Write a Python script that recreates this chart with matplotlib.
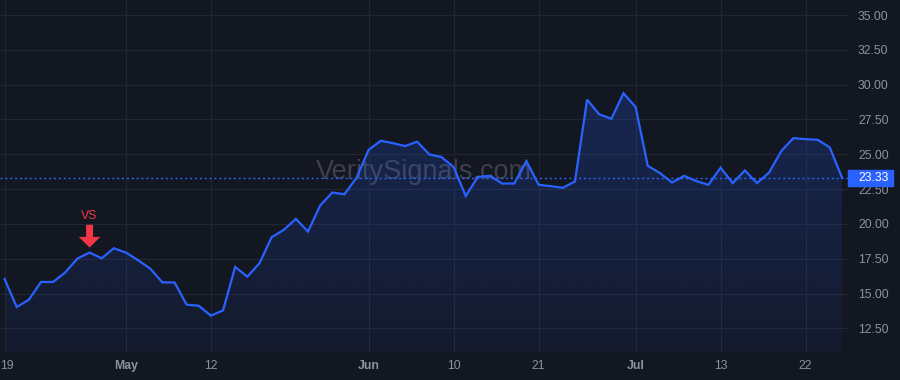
import numpy as np
import matplotlib
matplotlib.use('Agg')
import matplotlib.pyplot as plt
from matplotlib.colors import to_rgb
from matplotlib.patches import Rectangle
import matplotlib.transforms as mtransforms

plt.rcParams['font.family'] = ['Liberation Sans', 'DejaVu Sans']

# closing prices, one per session
values = [16.04, 14.03, 14.56, 15.83, 15.83, 16.52, 17.51, 17.94, 17.53, 18.25,
          17.94, 17.39, 16.79, 15.80, 15.80, 14.20, 14.12, 13.41, 13.79, 16.91,
          16.21, 17.17, 19.04, 19.57, 20.36, 19.45, 21.32, 22.25, 22.13, 23.31,
          25.32, 25.97, 25.80, 25.59, 25.90, 24.99, 24.80, 24.08, 22.01, 23.38,
          23.45, 22.90, 22.90, 24.51, 22.81, 22.71, 22.59, 23.05, 28.92, 27.87,
          27.55, 29.38, 28.39, 24.17, 23.65, 22.97, 23.45, 23.07, 22.81, 24.03,
          22.93, 23.84, 22.93, 23.69, 25.23, 26.16, 26.09, 26.04, 25.49, 23.33]

tick_pos = [0, 10, 17, 30, 37, 44, 52, 59, 66]
tick_labels = ['19', 'May', '12', 'Jun', '10', '21', 'Jul', '13', '22']
months = ['May', 'Jun', 'Jul']
y_ticks = [12.5, 15.0, 17.5, 20.0, 22.5, 25.0, 27.5, 30.0, 32.5, 35.0]

signal_idx = 7
signal_text = 'VS'
watermark = 'VeritySignals.com'

bg = '#131722'
grid_c = '#222632'
text_c = '#8e929d'
line_c = '#2962ff'
red = '#f23645'

x = np.arange(len(values))
y = np.array(values)
ymin, ymax = 10.80, 36.08
xmin, xmax = -0.38, 69.5

fig = plt.figure(figsize=(9, 3.8), dpi=100, facecolor=bg)
ax = fig.add_axes([0, 28/380, 848/900, 352/380])
ax.set_facecolor(bg)

# gradient area under line
grad = np.linspace(0.22, 0.05, 256)
rgba = np.zeros((256, 1, 4))
rgba[..., :3] = to_rgb(line_c)
rgba[..., 3] = grad[:, None]
im = ax.imshow(rgba, aspect='auto', origin='upper',
               extent=[x[0], x[-1], ymin, y.max()], zorder=1, interpolation='bilinear')
poly = ax.fill_between(x, y, ymin, color='none', lw=0)
im.set_clip_path(poly.get_paths()[0], transform=ax.transData)

ax.plot(x, y, color=line_c, lw=1.6, zorder=3, solid_joinstyle='miter')
ax.axhline(y[-1], color=line_c, lw=1, ls=(0, (1.5, 2)), zorder=2)

ax.set_xlim(xmin, xmax)
ax.set_ylim(ymin, ymax)

ax.set_xticks(tick_pos)
ax.set_xticklabels(tick_labels)
ax.set_yticks(y_ticks)
ax.set_yticklabels(['%.2f' % v for v in y_ticks])
ax.yaxis.tick_right()
ax.tick_params(axis='both', length=0, colors=text_c, labelsize=8.8)
ax.tick_params(axis='y', pad=7.2)
ax.tick_params(axis='x', pad=5.5)
xlbls = ax.get_xticklabels()
for lbl in xlbls:
    if lbl.get_text() in months:
        lbl.set_fontweight('bold')
# first label pushed inside the left edge
xlbls[0].set_horizontalalignment('left')
xlbls[0].set_transform(xlbls[0].get_transform() +
                       mtransforms.ScaledTranslation(-0.045, 0, fig.dpi_scale_trans))
ax.grid(True, color=grid_c, lw=0.8)
ax.set_axisbelow(True)
for s in ax.spines.values():
    s.set_visible(False)

# watermark
ax.text(0.5, 0.51, watermark, transform=ax.transAxes, ha='center', va='center',
        fontsize=19.5, color=(0.6, 0.6, 0.65, 0.32), zorder=0)

# signal arrow
ax.annotate('', xy=(signal_idx, y[signal_idx]), xytext=(0, 20), textcoords='offset points',
            arrowprops=dict(arrowstyle='simple,head_length=7.7,head_width=15.6,tail_width=5',
                            mutation_scale=1, color=red, shrinkA=0, shrinkB=3.6, lw=0),
            zorder=5)
ax.annotate(signal_text, xy=(signal_idx, y[signal_idx]), xytext=(0, 26.5),
            textcoords='offset points', ha='center', va='center', color=red, fontsize=8.8,
            zorder=5)

# last price label
trans = mtransforms.blended_transform_factory(ax.transAxes, ax.transData)
h = 16 / 13.925
ax.add_patch(Rectangle((1.0, y[-1] - h/2), 45/848, h, transform=trans, color=line_c,
                       clip_on=False, zorder=6))
ax.text(1.0 + 10/848, y[-1], '%.2f' % y[-1], transform=trans, ha='left', va='center',
        color='white', fontsize=8.8, zorder=7, clip_on=False)

fig.savefig('out.png', dpi=100, facecolor=bg)
